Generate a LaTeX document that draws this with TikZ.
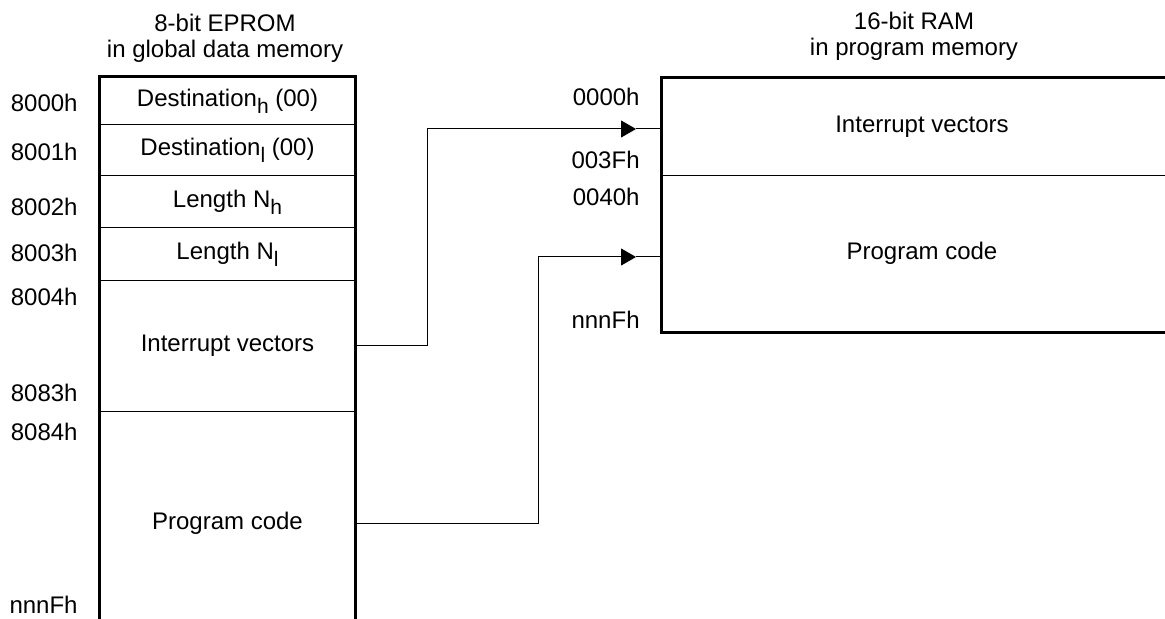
\documentclass[tikz,border=0pt]{standalone}
\usepackage{fontspec}
\setmainfont{Liberation Sans}
\usepackage{tikz}
\usetikzlibrary{positioning,calc,arrows.meta}

% chỉ số dưới kiểu bản gốc (to, hạ thấp)
\newcommand{\lowsub}[1]{\raisebox{-3.5pt}[0pt][0pt]{\fontsize{10.5}{10.5}\selectfont #1}}

\begin{document}
\begin{tikzpicture}[
		x=0.5pt, y=-0.5pt,
		every node/.style={font=\fontsize{12}{13}\selectfont},
		cell_node/.style={
			rectangle, inner sep=0pt, minimum width=127.5pt
		},
		ram_node/.style={
			rectangle, inner sep=0pt, minimum width=260pt
		},
		addr_label/.style={anchor=east, inner sep=0pt},
		outer_line/.style={draw, black, line width=1.5pt, line join=miter},
		divider_line/.style={draw, black, line width=0.5pt},
		copy_arrow/.style={
			-{Triangle[length=7.5pt, width=8.5pt]},
			black, line width=0.5pt
		}
	]
	\useasboundingbox (0,0) rectangle (1165,619);

	% --- 1. EPROM (trái) ---
	\node[align=center] (T_Left) at (225,38) {8-bit EPROM\\in global data memory};

	\node[cell_node, minimum height=23.5pt] (dest_h) at (227.5,100.5) {Destination\lowsub{h} (00)};
	\node[cell_node, minimum height=25.5pt] (dest_l) at (227.5,149.5) {Destination\lowsub{l} (00)};
	\node[cell_node, minimum height=26pt]   (len_h)  at (227.5,201)   {Length N\lowsub{h}};
	\node[cell_node, minimum height=26.5pt] (len_l)  at (227.5,253.5) {Length N\lowsub{l}};
	\node[cell_node, minimum height=65.5pt] (ivec_l) at (227.5,345.5) {Interrupt vectors};
	\node[cell_node, minimum height=112pt]  (prog_l) at (227.5,523)   {Program code};

	\draw[divider_line] (dest_h.south west) -- (dest_h.south east);
	\draw[divider_line] (dest_l.south west) -- (dest_l.south east);
	\draw[divider_line] (len_h.south west) -- (len_h.south east);
	\draw[divider_line] (len_l.south west) -- (len_l.south east);
	\draw[divider_line] (ivec_l.south west) -- (ivec_l.south east);
	\draw[outer_line] (prog_l.south west) |- (dest_h.north east) -- (prog_l.south east);

	% Địa chỉ bên trái
	\node[addr_label] (A0) at (78,103) {8000h};
	\node[addr_label] (A1) at (78,152) {8001h};
	\node[addr_label] (A2) at (78,207) {8002h};
	\node[addr_label] (A3) at (78,253) {8003h};
	\node[addr_label] (A4) at (78,297) {8004h};
	\node[addr_label] (A5) at (78,393) {8083h};
	\node[addr_label] (A6) at (78,432) {8084h};
	\node[addr_label] (A7) at (78,605) {nnnFh};

	% --- 2. RAM (phải) ---
	\node[align=center] (T_Right) at (914,36) {16-bit RAM\\in program memory};

	\node[ram_node, minimum height=48.5pt] (ivec_r) at (922,126.5) {Interrupt vectors};
	\node[ram_node, minimum height=78.5pt] (prog_r) at (922,253.5) {Program code};

	\draw[divider_line] (ivec_r.south west) -- (ivec_r.south east);
	\draw[outer_line] (prog_r.south east) -| (ivec_r.north west) -- (ivec_r.north east);

	% Địa chỉ bên phải
	\node[addr_label] (B0) at (640,97)  {0000h};
	\node[addr_label] (B1) at (640,160) {003Fh};
	\node[addr_label] (B2) at (640,197) {0040h};
	\node[addr_label] (B3) at (640,320) {nnnFh};

	% --- 3. MŨI TÊN ---
	\coordinate (tip_iv) at (636,129);
	\coordinate (tip_pc) at (636,257);
	\draw[copy_arrow] (ivec_l.east) -- ++(72,0) |- (tip_iv);
	\draw[divider_line] (tip_iv) -- (tip_iv -| ivec_r.west);
	\draw[copy_arrow] (prog_l.east) -- ++(183,0) |- (tip_pc);
	\draw[divider_line] (tip_pc) -- (tip_pc -| prog_r.west);

\end{tikzpicture}
\end{document}
